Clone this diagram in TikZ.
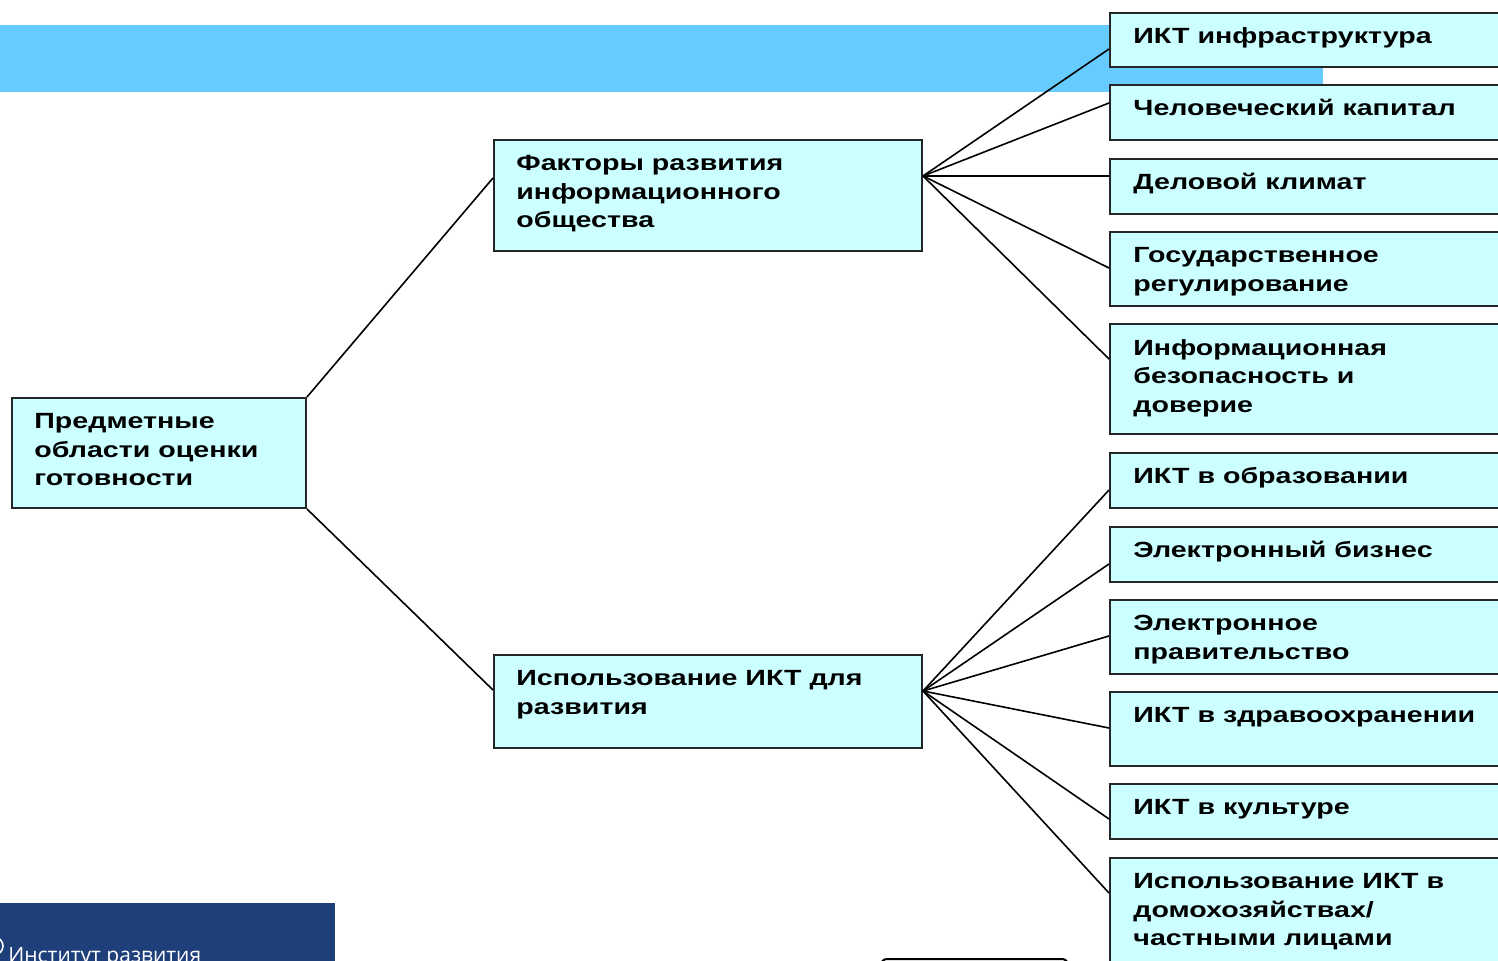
\documentclass[tikz,border=0pt]{standalone}
\usepackage{fontspec}
\newfontfamily\boxfont[FakeStretch=1.3]{Liberation Sans}
\newfontfamily\logofont{Open Sans}
\definecolor{barblue}{HTML}{66CCFF}
\definecolor{boxcyan}{HTML}{CCFFFF}
\definecolor{logoblue}{HTML}{1F3F7B}
\tikzset{
  box/.style={draw=black!85, line width=1pt, fill=boxcyan, anchor=north west, inner sep=0pt},
  txt/.style={anchor=north west, align=left, inner sep=0pt, font=\boxfont\bfseries\fontsize{11}{14.25}\selectfont,
    execute at begin node={\rule{0pt}{11pt}}},
  link/.style={line width=0.8pt}
}
\begin{document}
\begin{tikzpicture}[x=0.5pt,y=-0.5pt]
  \useasboundingbox (0,0) rectangle (1498,961);
  \clip (0,0) rectangle (1498,961);
  % background bar and footer
  \fill[barblue] (0,25) rectangle (1323,92);
  \fill[logoblue] (0,903) rectangle (335,990);
  \draw[white, line width=0.8pt] (-6,946) circle (9);
  \node[anchor=base west, inner sep=0pt, text=white, font=\logofont\fontsize{10.5}{12}\selectfont] (inst) at (8,962) {Институт развития};
  \draw[line width=1pt, rounded corners=3pt] (881,1000) rectangle (1068,959);
  % boxes
  \node[box, minimum width=147pt, minimum height=55pt] (root) at (11,397) {};
  \node[box, minimum width=214pt, minimum height=55.5pt] (fak) at (493,139) {};
  \node[box, minimum width=214pt, minimum height=46.5pt] (isp) at (493,654) {};
  \node[box, minimum width=210pt, minimum height=27pt] (b1) at (1109,12) {};
  \node[box, minimum width=210pt, minimum height=27.5pt] (b2) at (1109,84) {};
  \node[box, minimum width=210pt, minimum height=27.5pt] (b3) at (1109,158) {};
  \node[box, minimum width=210pt, minimum height=37pt] (b4) at (1109,231) {};
  \node[box, minimum width=210pt, minimum height=55pt] (b5) at (1109,323) {};
  \node[box, minimum width=210pt, minimum height=27.5pt] (b6) at (1109,452) {};
  \node[box, minimum width=210pt, minimum height=27.5pt] (b7) at (1109,526) {};
  \node[box, minimum width=210pt, minimum height=37pt] (b8) at (1109,599) {};
  \node[box, minimum width=210pt, minimum height=37pt] (b9) at (1109,691) {};
  \node[box, minimum width=210pt, minimum height=27.5pt] (b10) at (1109,783) {};
  \node[box, minimum width=210pt, minimum height=70pt] (b11) at (1109,857) {};
  % texts
  \node[txt] (troot) at ([shift={(11.5pt,-8pt)}]root.north west) {Предметные\\области оценки\\готовности};
  \node[txt] (tfak) at ([shift={(11.5pt,-8pt)}]fak.north west) {Факторы развития\\информационного\\общества};
  \node[txt] (tisp) at ([shift={(11.5pt,-8pt)}]isp.north west) {Использование ИКТ для\\развития};
  \node[txt] (t1) at ([shift={(12pt,-4.5pt)}]b1.north west) {ИКТ инфраструктура};
  \node[txt] (t2) at ([shift={(12pt,-4.5pt)}]b2.north west) {Человеческий капитал};
  \node[txt] (t3) at ([shift={(12pt,-4.5pt)}]b3.north west) {Деловой климат};
  \node[txt] (t4) at ([shift={(12pt,-8pt)}]b4.north west) {Государственное\\регулирование};
  \node[txt] (t5) at ([shift={(12pt,-8pt)}]b5.north west) {Информационная\\безопасность и\\доверие};
  \node[txt] (t6) at ([shift={(12pt,-4.5pt)}]b6.north west) {ИКТ в образовании};
  \node[txt] (t7) at ([shift={(12pt,-4.5pt)}]b7.north west) {Электронный бизнес};
  \node[txt] (t8) at ([shift={(12pt,-8pt)}]b8.north west) {Электронное\\правительство};
  \node[txt] (t9) at ([shift={(12pt,-4.5pt)}]b9.north west) {ИКТ в здравоохранении};
  \node[txt] (t10) at ([shift={(12pt,-4.5pt)}]b10.north west) {ИКТ в культуре};
  \node[txt] (t11) at ([shift={(12pt,-8pt)}]b11.north west) {Использование ИКТ в\\домохозяйствах/\\частными лицами};
  % links
  \draw[link] (root.north east) -- ([yshift=-19.5pt]fak.north west);
  \draw[link] (root.south east) -- ([yshift=-18pt]isp.north west);
  \draw[link] ([yshift=-18.5pt]fak.north east) -- ([yshift=-18.5pt]b1.north west);
  \draw[link] ([yshift=-18.5pt]fak.north east) -- ([yshift=-9.5pt]b2.north west);
  \draw[link] ([yshift=-18.5pt]fak.north east) -- ([yshift=-9pt]b3.north west);
  \draw[link] ([yshift=-18.5pt]fak.north east) -- ([yshift=-18.5pt]b4.north west);
  \draw[link] ([yshift=-18.5pt]fak.north east) -- ([yshift=-18pt]b5.north west);
  \draw[link] ([yshift=-18.5pt]isp.north east) -- ([yshift=-19pt]b6.north west);
  \draw[link] ([yshift=-18.5pt]isp.north east) -- ([yshift=-19pt]b7.north west);
  \draw[link] ([yshift=-18.5pt]isp.north east) -- ([yshift=-18.5pt]b8.north west);
  \draw[link] ([yshift=-18.5pt]isp.north east) -- ([yshift=-18.5pt]b9.north west);
  \draw[link] ([yshift=-18.5pt]isp.north east) -- ([yshift=-18pt]b10.north west);
  \draw[link] ([yshift=-18.5pt]isp.north east) -- ([yshift=-18pt]b11.north west);
\end{tikzpicture}
\end{document}
